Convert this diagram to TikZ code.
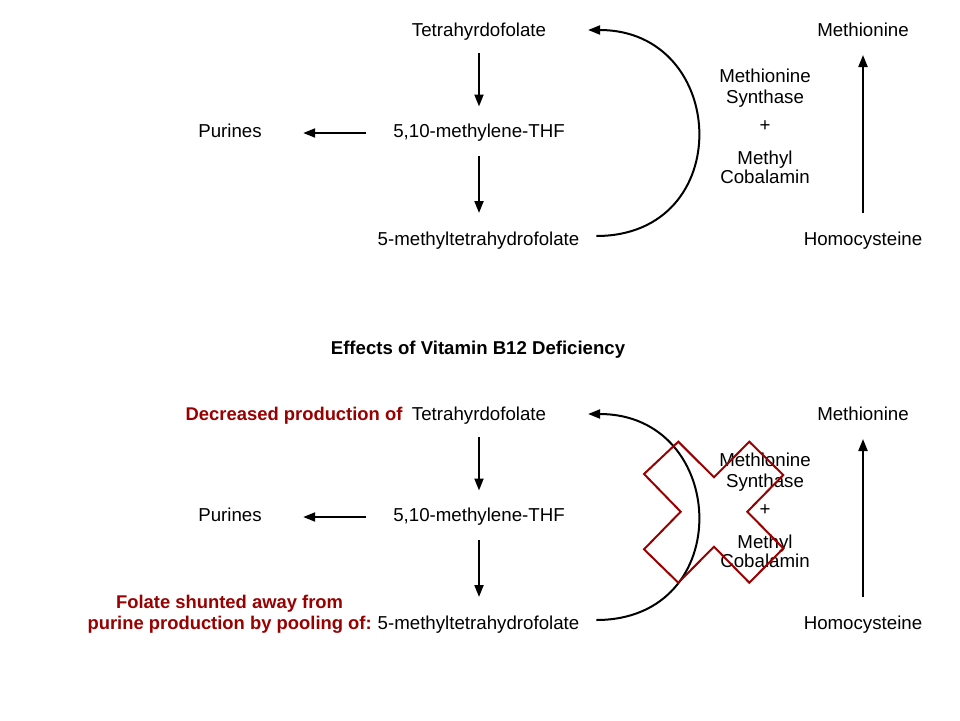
\documentclass[tikz,border=0pt]{standalone}
\usepackage{fontspec}
\setmainfont{Liberation Sans}
\usetikzlibrary{arrows.meta}
\definecolor{dred}{RGB}{153,0,0}
\begin{document}
\begin{tikzpicture}[x=1pt,y=-1pt,
  lbl/.style={inner sep=0pt,outer sep=0pt,text height=13pt,text depth=4pt,anchor=base,font=\fontsize{18.7}{21}\selectfont},
  enz/.style={inner sep=0pt,outer sep=0pt,anchor=base,font=\fontsize{18.7}{21}\selectfont},
  redlbl/.style={inner sep=0pt,outer sep=0pt,text height=13pt,text depth=4pt,anchor=base,text=dred,font=\fontsize{18.4}{21}\selectfont\bfseries},
  arr/.style={line width=2pt,-{Triangle[length=12pt,width=9pt]}},
  cyc/.style={line width=2pt,-{Triangle[length=12pt,width=9pt]}},
  xmark/.style={draw=dred,line width=2pt,line join=miter}
]
\useasboundingbox (0,0) rectangle (960,720);
\fill[white] (0,0) rectangle (960,720);

% ---------- top diagram ----------
\node[lbl] (thf) at (479,36) {Tetrahyrdofolate};
\node[lbl] (mthf) at (479,137.5) {5,10-methylene-THF};
\node[lbl] (m5) at (478.5,245) {5-methyltetrahydrofolate};
\node[lbl] (pur) at (230,137.5) {Purines};
\node[lbl] (met) at (863,36) {Methionine};
\node[lbl] (hcy) at (863,245) {Homocysteine};
\node[enz] (e1) at (765,82.7) {Methionine};
\node[enz] (e2) at (765,103) {Synthase};
\node[enz] (e3) at (765,131) {+};
\node[enz] (e4) at (765,164) {Methyl};
\node[enz] (e5) at (765,183.3) {Cobalamin};

\draw[arr,shorten <=13pt,shorten >=18pt] (thf.south) -- (thf.south |- mthf.north);
\draw[arr,shorten <=14pt,shorten >=19pt] (mthf.south) -- (mthf.south |- m5.north);
\draw[arr,shorten <=27pt,shorten >=41.5pt] (mthf.west) -- (pur.east);
\draw[arr,shorten <=19pt,shorten >=15pt] (hcy.north) -- (met.south);
\draw[cyc] ([xshift=17pt,yshift=4.5pt]m5.east) .. controls +(141,0) and +(141,0) .. ([xshift=42pt,yshift=1.5pt]thf.east);

% ---------- title ----------
\node[inner sep=0pt,anchor=base,font=\fontsize{18.6}{21}\selectfont\bfseries] (title) at (478,354) {Effects of Vitamin B12 Deficiency};

% ---------- bottom diagram ----------
\node[lbl] (thfb) at (479,420) {Tetrahyrdofolate};
\node[lbl] (mthfb) at (479,521.5) {5,10-methylene-THF};
\node[lbl] (m5b) at (478.5,629) {5-methyltetrahydrofolate};
\node[lbl] (purb) at (230,521.5) {Purines};
\node[lbl] (metb) at (863,420) {Methionine};
\node[lbl] (hcyb) at (863,629) {Homocysteine};
\node[enz] (f1) at (765,466.7) {Methionine};
\node[enz] (f2) at (765,487) {Synthase};
\node[enz] (f3) at (765,515) {+};
\node[enz] (f4) at (765,548) {Methyl};
\node[enz] (f5) at (765,567.3) {Cobalamin};

\node[redlbl,anchor=east] (dec) at ([xshift=-9.5pt]thfb.west) {Decreased production of};
\node[redlbl,anchor=east] (fs2) at ([xshift=-6pt]m5b.west) {purine production by pooling of:};
\node[redlbl,anchor=center] (fs1) at ([yshift=21pt]fs2.center) {Folate shunted away from};

\draw[arr,shorten <=13pt,shorten >=18pt] (thfb.south) -- (thfb.south |- mthfb.north);
\draw[arr,shorten <=14pt,shorten >=19pt] (mthfb.south) -- (mthfb.south |- m5b.north);
\draw[arr,shorten <=27pt,shorten >=41.5pt] (mthfb.west) -- (purb.east);
\draw[arr,shorten <=19pt,shorten >=15pt] (hcyb.north) -- (metb.south);
\draw[cyc] ([xshift=17pt,yshift=4.5pt]m5b.east) .. controls +(141,0) and +(141,0) .. ([xshift=42pt,yshift=1.5pt]thfb.east);

% red cross
\draw[xmark] (678.3,441.7) -- (714,477.3) -- (749.3,441.7) -- (783.3,475) -- (747.3,511.7) -- (783.3,548.3) -- (749.3,582.7) -- (714,546.7) -- (678.3,582.7) -- (644,549.3) -- (680.7,511.7) -- (644,474) -- cycle;
\end{tikzpicture}
\end{document}
